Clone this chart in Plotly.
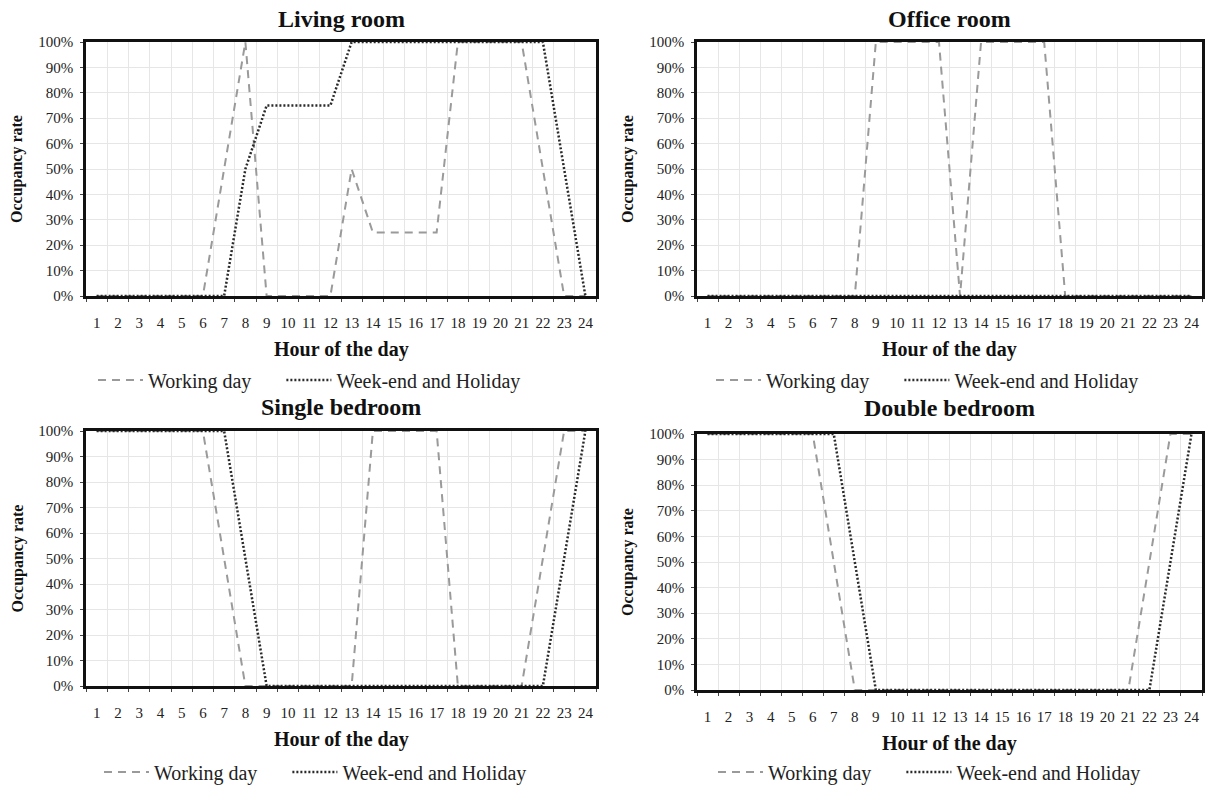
import plotly.graph_objects as go

hours = list(range(1, 25))
y_ticks = [0, 0.1, 0.2, 0.3, 0.4, 0.5, 0.6, 0.7, 0.8, 0.9, 1.0]

living_work = [0, 0, 0, 0, 0, 0, 0.5, 1, 0, 0, 0, 0, 0.5, 0.25, 0.25, 0.25, 0.25, 1, 1, 1, 1, 0.5, 0, 0]
living_week = [0, 0, 0, 0, 0, 0, 0, 0.5, 0.75, 0.75, 0.75, 0.75, 1, 1, 1, 1, 1, 1, 1, 1, 1, 1, 0.5, 0]
office_work = [0, 0, 0, 0, 0, 0, 0, 0, 1, 1, 1, 1, 0, 1, 1, 1, 1, 0, 0, 0, 0, 0, 0, 0]
office_week = [0] * 24
single_work = [1, 1, 1, 1, 1, 1, 0.5, 0, 0, 0, 0, 0, 0, 1, 1, 1, 1, 0, 0, 0, 0, 0.5, 1, 1]
single_week = [1, 1, 1, 1, 1, 1, 1, 0.5, 0, 0, 0, 0, 0, 0, 0, 0, 0, 0, 0, 0, 0, 0, 0.5, 1]
double_work = [1, 1, 1, 1, 1, 1, 0.5, 0, 0, 0, 0, 0, 0, 0, 0, 0, 0, 0, 0, 0, 0, 0.5, 1, 1]
double_week = [1, 1, 1, 1, 1, 1, 1, 0.5, 0, 0, 0, 0, 0, 0, 0, 0, 0, 0, 0, 0, 0, 0, 0.5, 1]

titles = ["Living room", "Office room", "Single bedroom", "Double bedroom"]
series = [(living_work, living_week), (office_work, office_week),
          (single_work, single_week), (double_work, double_week)]
series_names = ["Working day", "Week-end and Holiday"]

W, H = 1213, 785
# plot boxes in target-image pixels: (left, right, top, bottom)
boxes = [(86, 596, 42, 296), (697, 1202, 42, 296),
         (86, 596, 431, 686), (697, 1202, 434, 690)]
title_y = [19, 19, 407, 408]
legend_x0 = [100, 718, 106, 720]
legend_y = [380, 380, 772, 772]


def px(x):
    return x / W


def py(y):
    return 1 - y / H


FONT = "Liberation Serif, Times New Roman, serif"
PAD = "\u00a0" * 5

fig = go.Figure()
annotations = []
layout_extra = {}
for i, (title, (wk, we), (l, r, t, b)) in enumerate(zip(titles, series, boxes)):
    n = i + 1
    xa = "x" if n == 1 else f"x{n}"
    ya = "y" if n == 1 else f"y{n}"
    lg = "legend" if n == 1 else f"legend{n}"
    fig.add_trace(go.Scatter(x=hours, y=wk, mode="lines", name=series_names[0] + PAD,
                             line=dict(color="#9a9a9a", width=2, dash="8px,6px"),
                             xaxis=xa, yaxis=ya, legend=lg))
    fig.add_trace(go.Scatter(x=hours, y=we, mode="lines", name=series_names[1],
                             line=dict(color="#2a2a2a", width=2.5, dash="2px,2px"),
                             xaxis=xa, yaxis=ya, legend=lg))
    axkey = "xaxis" if n == 1 else f"xaxis{n}"
    aykey = "yaxis" if n == 1 else f"yaxis{n}"
    layout_extra[axkey] = dict(
        domain=[px(l), px(r)], anchor=ya, range=[0.5, 24.5], automargin=False,
        tickmode="array", tickvals=hours, ticktext=[str(h) for h in hours],
        showgrid=False, ticks="", zeroline=False, ticklabelstandoff=11,
        showline=True, mirror=True, linecolor="#111", linewidth=2.5,
        tickfont=dict(family=FONT, size=15, color="#222"),
        minor=dict(tickmode="linear", tick0=0.5, dtick=1, showgrid=True,
                   gridcolor="#e6e6e6", gridwidth=1, ticks="outside",
                   ticklen=3, tickcolor="#444"),
    )
    layout_extra[aykey] = dict(
        domain=[py(b), py(t)], anchor=xa, range=[0, 1], automargin=False,
        tickmode="array", tickvals=y_ticks, tickformat=".0%",
        showgrid=True, gridcolor="#e6e6e6", gridwidth=1, ticklabelstandoff=4,
        zeroline=False, ticks="outside", ticklen=3, tickcolor="#444",
        showline=True, mirror=True, linecolor="#111", linewidth=2.5,
        tickfont=dict(family=FONT, size=15, color="#222"),
    )
    cx = (l + r) / 2
    annotations.append(dict(text=f"<b>{title}</b>", x=px(cx), y=py(title_y[i]),
                            xref="paper", yref="paper", showarrow=False,
                            xanchor="center", yanchor="middle",
                            font=dict(family=FONT, size=24, color="#111")))
    annotations.append(dict(text="<b>Hour of the day</b>", x=px(cx), y=py(b + 53),
                            xref="paper", yref="paper", showarrow=False,
                            xanchor="center", yanchor="middle",
                            font=dict(family=FONT, size=20, color="#111")))
    annotations.append(dict(text="<b>Occupancy rate</b>", x=px(l - 69),
                            y=py((t + b) / 2), textangle=-90,
                            xref="paper", yref="paper", showarrow=False,
                            xanchor="center", yanchor="middle",
                            font=dict(family=FONT, size=16, color="#111")))
    layout_extra[lg] = dict(orientation="h", x=px(legend_x0[i] - 7), y=py(legend_y[i]),
                            xanchor="left", yanchor="middle",
                            font=dict(family=FONT, size=20, color="#222"),
                            bgcolor="rgba(0,0,0,0)", itemwidth=45)

fig.update_layout(
    width=W, height=H,
    margin=dict(l=0, r=0, t=0, b=0, autoexpand=False),
    paper_bgcolor="white", plot_bgcolor="white",
    annotations=annotations, showlegend=True,
    **layout_extra,
)

fig.write_html("out.html",
               config={"displayModeBar": False},
               post_script="document.body.style.margin='0';"
                           "document.body.style.overflow='hidden';")
